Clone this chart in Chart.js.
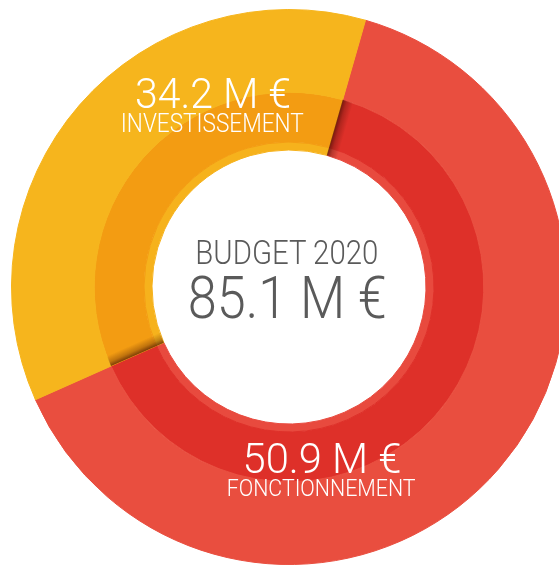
<!DOCTYPE html>
<html>
<head>
<meta charset="utf-8">
<script src="https://cdn.jsdelivr.net/npm/chart.js@4.4.1/dist/chart.umd.min.js"></script>
<style>
  html, body { margin: 0; padding: 0; background: #fff; overflow: hidden; }
  body { width: 559px; height: 565px; position: relative; font-family: Roboto, "Open Sans", sans-serif; font-weight: 300; }
  #chart-box { position: absolute; left: 11px; top: 9px; width: 556px; height: 556px; }
  .lbl { position: absolute; width: 340px; text-align: center; white-space: nowrap; line-height: 1; }
  .lbl span { display: inline-block; transform-origin: center top; }
</style>
</head>
<body>
<div id="chart-box"><canvas id="budget-canvas"></canvas></div>
<div id="labels"></div>
<script>
// budget parts, as printed on the chart (M EUR)
const categories = ['FONCTIONNEMENT', 'INVESTISSEMENT'];
const amounts = [50.9, 34.2];
// share of the circle each part takes in the drawing (%)
const sliceShares = [63.9, 36.1];
const chartTitle = 'BUDGET 2020';

const outerColors = ['#E94E3F', '#F6B51D'];
const innerColors = ['#DE3029', '#F39C12'];
const rimColors = ['#E84A3E', '#F6B21C'];

function money(v) {
    return v.toFixed(1) + ' M €';
}

// dark fold where each slice starts, on the inner ring
const foldShadow = {
    id: 'foldShadow',
    afterDatasetsDraw(chart) {
        const ctx = chart.ctx;
        const inner = chart.getDatasetMeta(1);
        const rim = chart.getDatasetMeta(2);
        inner.data.forEach(function (arc, i) {
            const p = arc.getProps(['x', 'y', 'startAngle', 'outerRadius']);
            const rIn = rim.data[i].getProps(['innerRadius']).innerRadius;
            const a = p.startAngle;
            const rMid = (rIn + p.outerRadius) / 2;
            const x0 = p.x + rMid * Math.cos(a), y0 = p.y + rMid * Math.sin(a);
            const w = 11;
            const x1 = x0 - w * Math.sin(a), y1 = y0 + w * Math.cos(a);
            const g = ctx.createLinearGradient(x0, y0, x1, y1);
            g.addColorStop(0, 'rgba(60,10,0,0.65)');
            g.addColorStop(0.4, 'rgba(60,10,0,0.28)');
            g.addColorStop(1, 'rgba(60,10,0,0)');
            ctx.save();
            ctx.beginPath();
            ctx.arc(p.x, p.y, p.outerRadius, a, a + 0.2);
            ctx.arc(p.x, p.y, rIn, a + 0.2, a, true);
            ctx.closePath();
            ctx.fillStyle = g;
            ctx.fill();
            ctx.restore();
        });
    }
};

new Chart(document.getElementById('budget-canvas'), {
    type: 'doughnut',
    data: {
        labels: categories,
        datasets: [
            { data: sliceShares, backgroundColor: outerColors, borderColor: outerColors, weight: 83 },
            { data: sliceShares, backgroundColor: innerColors, borderColor: innerColors, weight: 50 },
            { data: sliceShares, backgroundColor: rimColors, borderColor: rimColors, weight: 8 }
        ]
    },
    options: {
        responsive: true,
        maintainAspectRatio: false,
        animation: false,
        events: [],
        rotation: 16,
        cutout: 137,
        borderWidth: 1,
        hoverOffset: 0,
        layout: { padding: 0 },
        plugins: { legend: { display: false }, tooltip: { enabled: false } }
    },
    plugins: [foldShadow]
});

// text: cx = centre x, top, font size, target width, colour
const total = amounts.reduce((s, v) => s + v, 0);
const labelSpecs = [
    { text: money(amounts[1]), cx: 213, top: 73, size: 42, w: 156, color: '#fff' },
    { text: categories[1], cx: 212, top: 111, size: 25, w: 183, color: '#fff' },
    { text: chartTitle, cx: 287, top: 236, size: 33, w: 183, color: '#5a5a5a' },
    { text: money(total), cx: 287, top: 268, size: 60, w: 199, color: '#5a5a5a' },
    { text: money(amounts[0]), cx: 322, top: 438, size: 42, w: 159, color: '#fff' },
    { text: categories[0], cx: 321, top: 476, size: 24, w: 189, color: '#fff' }
];

const holder = document.getElementById('labels');
labelSpecs.forEach(function (s) {
    const div = document.createElement('div');
    div.className = 'lbl';
    div.style.left = (s.cx - 170) + 'px';
    div.style.top = s.top + 'px';
    div.style.fontSize = s.size + 'px';
    div.style.color = s.color;
    const span = document.createElement('span');
    span.textContent = s.text;
    div.appendChild(span);
    holder.appendChild(div);
    const real = span.getBoundingClientRect().width;
    span.style.transform = 'scaleX(' + (s.w / real).toFixed(3) + ')';
});
</script>
</body>
</html>
